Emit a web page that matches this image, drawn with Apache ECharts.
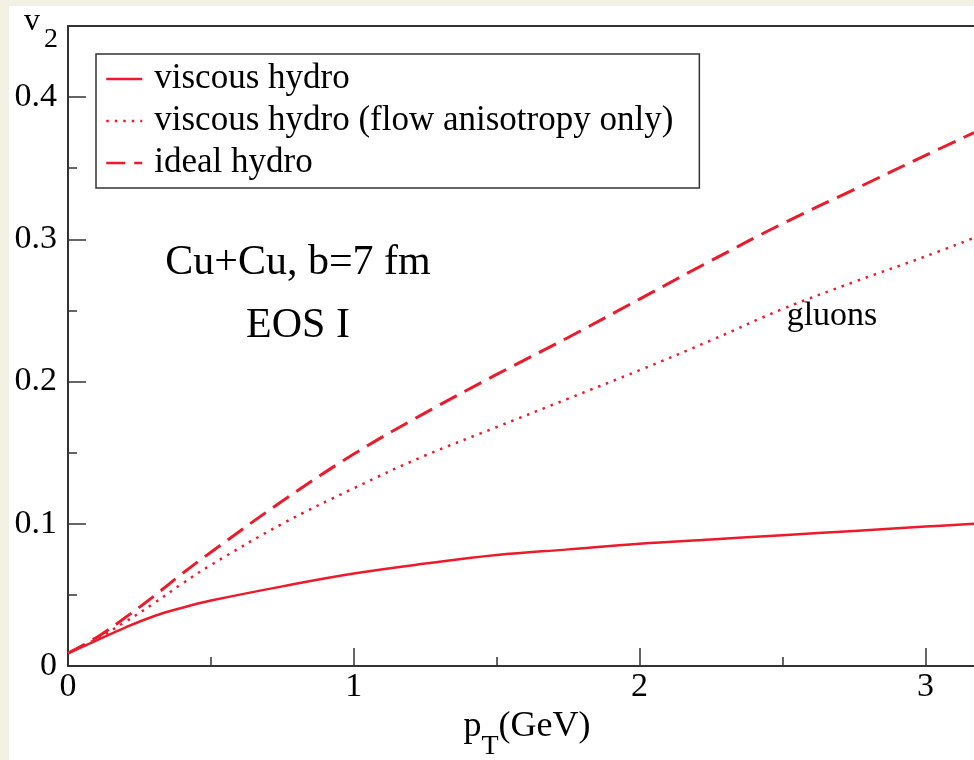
<!DOCTYPE html>
<html><head><meta charset="utf-8">
<script src="https://cdn.jsdelivr.net/npm/echarts@6/dist/echarts.min.js"></script>
<style>
html,body{margin:0;padding:0;background:#f2f1e4;width:974px;height:760px;overflow:hidden}
#chart{position:absolute;left:9px;top:6px;width:965px;height:754px;background:#fff}
</style></head><body><div id="chart"></div>
<script>
const pT          = [0,     0.1,   0.2,   0.3,   0.4,   0.5,   0.75,  1.0,   1.25,  1.5,   1.75,  2.0,   2.25,  2.5,   2.75,  3.0,   3.17];
const viscous     = [0.009, 0.018, 0.027, 0.035, 0.041, 0.046, 0.056, 0.065, 0.072, 0.078, 0.082, 0.086, 0.089, 0.092, 0.095, 0.098, 0.100];
const viscousFlow = [0.009, 0.019, 0.031, 0.044, 0.058, 0.071, 0.100, 0.125, 0.148, 0.168, 0.188, 0.208, 0.229, 0.251, 0.270, 0.288, 0.301];
const ideal       = [0.009, 0.020, 0.034, 0.049, 0.065, 0.080, 0.116, 0.149, 0.178, 0.205, 0.231, 0.258, 0.285, 0.311, 0.335, 0.359, 0.375];
const seriesNames = ['viscous hydro', 'viscous hydro (flow anisotropy only)', 'ideal hydro'];
const xTicks = [0, 1, 2, 3];
const xMinorTicks = [0.5, 1.5, 2.5];
const yTicks = [0, 0.1, 0.2, 0.3, 0.4];
const yMinorTicks = [0.05, 0.15, 0.25, 0.35];
const xMax = 3.17, yMax = 0.45;

const FONT = "'Liberation Serif', 'Times New Roman', serif";
const RED = '#ec1a2a';
const AX = '#333';
const pairs = ys => pT.map((x, i) => [x, ys[i]]);

const chart = echarts.init(document.getElementById('chart'));
chart.setOption({
  backgroundColor: '#fff',
  animation: false,
  grid: { left: 59, top: 20, right: 0, bottom: 94, containLabel: false, outerBoundsMode: 'none' },
  xAxis: [
    {
      type: 'value', min: 0, max: xMax, position: 'bottom',
      axisLine: { show: true, onZero: false, lineStyle: { color: AX, width: 2 } },
      axisTick: { show: true, inside: true, length: 18, customValues: xTicks, lineStyle: { color: AX, width: 1.5 } },
      axisLabel: { show: true, customValues: xTicks, margin: 4, fontFamily: FONT, fontSize: 34, color: '#000',
                   formatter: v => String(v) },
      splitLine: { show: false },
      name: '{p|p}{t|T}{p|(GeV)}', nameLocation: 'middle', nameGap: 37,
      nameTextStyle: {
        fontFamily: FONT, color: '#000', padding: [0, 0, 0, 12],
        rich: {
          p: { fontFamily: FONT, fontSize: 36, color: '#000', lineHeight: 36, verticalAlign: 'top' },
          t: { fontFamily: FONT, fontSize: 28, color: '#000', lineHeight: 75, verticalAlign: 'middle' }
        }
      }
    },
    {
      type: 'value', min: 0, max: xMax, position: 'bottom',
      axisLine: { show: false },
      axisTick: { show: true, inside: true, length: 9, customValues: xMinorTicks, lineStyle: { color: AX, width: 1.5 } },
      axisLabel: { show: false }, splitLine: { show: false }
    },
    {
      type: 'value', min: 0, max: xMax, position: 'top',
      axisLine: { show: true, onZero: false, lineStyle: { color: AX, width: 2 } },
      axisTick: { show: false }, axisLabel: { show: false }, splitLine: { show: false }
    }
  ],
  yAxis: [
    {
      type: 'value', min: 0, max: yMax, position: 'left',
      axisLine: { show: true, onZero: false, lineStyle: { color: AX, width: 2 } },
      axisTick: { show: true, inside: true, length: 18, customValues: yTicks, lineStyle: { color: AX, width: 1.5 } },
      axisLabel: { show: true, customValues: yTicks, margin: 11, fontFamily: FONT, fontSize: 34, color: '#000',
                   formatter: v => v === 0 ? '0' : v.toFixed(1) },
      splitLine: { show: false }
    },
    {
      type: 'value', min: 0, max: yMax, position: 'left',
      axisLine: { show: false },
      axisTick: { show: true, inside: true, length: 9, customValues: yMinorTicks, lineStyle: { color: AX, width: 1.5 } },
      axisLabel: { show: false }, splitLine: { show: false }
    }
  ],
  legend: {
    orient: 'vertical', left: 87, top: 48,
    data: seriesNames,
    itemWidth: 36, itemHeight: 14, itemGap: 0,
    padding: [4, 26, 4, 9],
    borderColor: '#333', borderWidth: 1.5,
    itemStyle: { opacity: 0 },
    lineStyle: { width: 2.5 },
    textStyle: { fontFamily: FONT, fontSize: 35, color: '#000', lineHeight: 42, padding: [0, 0, 0, 7] }
  },
  graphic: [
    { type: 'text', left: 15, top: 0, style: { text: 'v', font: "32px 'Liberation Serif'", fill: '#000' } },
    { type: 'text', left: 35, top: 20, style: { text: '2', font: "28px 'Liberation Serif'", fill: '#000' } },
    { type: 'text', x: 289, y: 257, style: { text: 'Cu+Cu, b=7 fm', font: "42px 'Liberation Serif'", fill: '#000', align: 'center', verticalAlign: 'middle' } },
    { type: 'text', x: 289, y: 320, style: { text: 'EOS I', font: "42px 'Liberation Serif'", fill: '#000', align: 'center', verticalAlign: 'middle' } },
    { type: 'text', x: 823, y: 310, style: { text: 'gluons', font: "34px 'Liberation Serif'", fill: '#000', align: 'center', verticalAlign: 'middle' } }
  ],
  series: [
    { name: seriesNames[0], type: 'line', xAxisIndex: 0, yAxisIndex: 0, data: pairs(viscous), smooth: 0.4,
      symbol: 'none', showSymbol: false, lineStyle: { color: RED, width: 2.5, type: 'solid' }, itemStyle: { color: RED } },
    { name: seriesNames[1], type: 'line', xAxisIndex: 0, yAxisIndex: 0, data: pairs(viscousFlow), smooth: 0.4,
      symbol: 'none', showSymbol: false, lineStyle: { color: RED, width: 2.5, type: [2.5, 6] }, itemStyle: { color: RED } },
    { name: seriesNames[2], type: 'line', xAxisIndex: 0, yAxisIndex: 0, data: pairs(ideal), smooth: 0.4,
      symbol: 'none', showSymbol: false, lineStyle: { color: RED, width: 3, type: [19, 9] }, itemStyle: { color: RED } }
  ]
});
</script></body></html>
